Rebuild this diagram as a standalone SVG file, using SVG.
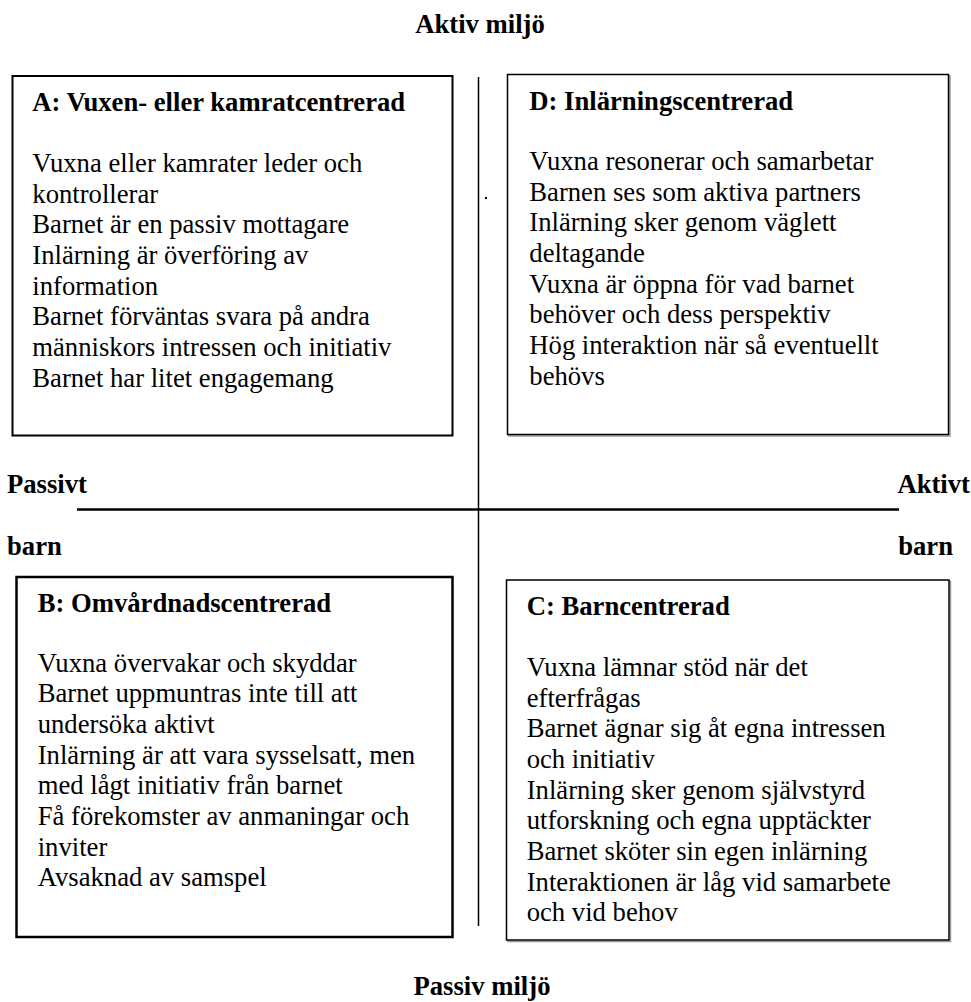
<svg xmlns="http://www.w3.org/2000/svg" width="971" height="1002" viewBox="0 0 971 1002">
<style>
text{font-family:"Liberation Serif","Times New Roman",serif;font-size:26.67px;fill:#000}
.b{font-weight:bold}
.box{fill:#fff;stroke:#000}
.shadow{fill:none;stroke:#999;stroke-width:1.5}
.ln{stroke:#000;fill:none}
</style>
<rect width="971" height="1002" fill="#fff"/>
<text class="b" x="480" y="33" text-anchor="middle">Aktiv miljö</text>
<text class="b" x="482" y="995" text-anchor="middle">Passiv miljö</text>
<text class="b" x="7" y="493">Passivt</text>
<text class="b" x="7" y="555">barn</text>
<text class="b" x="970" y="493" text-anchor="end">Aktivt</text>
<text class="b" x="953" y="555" text-anchor="end">barn</text>
<g id="connectors">
<line class="ln" x1="478.5" y1="77" x2="478.5" y2="926" stroke-width="1.5"/>
<line class="ln" x1="77" y1="509.5" x2="899" y2="509.5" stroke-width="2.5"/>
<circle cx="486" cy="198" r="1.2" fill="#000"/>
</g>
<g id="nodeA">
<rect class="box" x="12.5" y="76" width="440" height="359.5" stroke-width="2"/>
<text class="b" x="32.3" y="111">A: Vuxen- eller kamratcentrerad</text>
<text x="32.3" y="172">Vuxna eller kamrater leder och</text>
<text x="32.3" y="202.7">kontrollerar</text>
<text x="32.3" y="233.3">Barnet är en passiv mottagare</text>
<text x="32.3" y="264">Inlärning är överföring av</text>
<text x="32.3" y="294.7">information</text>
<text x="32.3" y="325.3">Barnet förväntas svara på andra</text>
<text x="32.3" y="356">människors intressen och initiativ</text>
<text x="32.3" y="386.7">Barnet har litet engagemang</text>
</g>
<g id="nodeD">
<rect class="shadow" x="509" y="76" width="441" height="360"/>
<rect class="box" x="507.5" y="74.5" width="441" height="360" stroke-width="1.5"/>
<text class="b" x="529.3" y="110">D: Inlärningscentrerad</text>
<text x="529.3" y="170">Vuxna resonerar och samarbetar</text>
<text x="529.3" y="200.7">Barnen ses som aktiva partners</text>
<text x="529.3" y="231.3">Inlärning sker genom väglett</text>
<text x="529.3" y="262">deltagande</text>
<text x="529.3" y="292.7">Vuxna är öppna för vad barnet</text>
<text x="529.3" y="323.3">behöver och dess perspektiv</text>
<text x="529.3" y="354">Hög interaktion när så eventuellt</text>
<text x="529.3" y="384.7">behövs</text>
</g>
<g id="nodeB">
<rect class="box" x="16.5" y="577" width="436" height="360" stroke-width="2.5"/>
<text class="b" x="37.7" y="611.7">B: Omvårdnadscentrerad</text>
<text x="37.7" y="671.7">Vuxna övervakar och skyddar</text>
<text x="37.7" y="702.4">Barnet uppmuntras inte till att</text>
<text x="37.7" y="733">undersöka aktivt</text>
<text x="37.7" y="763.7">Inlärning är att vara sysselsatt, men</text>
<text x="37.7" y="794.4">med lågt initiativ från barnet</text>
<text x="37.7" y="825">Få förekomster av anmaningar och</text>
<text x="37.7" y="855.7">inviter</text>
<text x="37.7" y="886.4">Avsaknad av samspel</text>
</g>
<g id="nodeC">
<rect class="shadow" x="508" y="581.5" width="442.5" height="360"/>
<rect class="box" x="506.5" y="580" width="442.5" height="360" stroke-width="1.5"/>
<text class="b" x="526.7" y="615">C: Barncentrerad</text>
<text x="526.7" y="676">Vuxna lämnar stöd när det</text>
<text x="526.7" y="706.7">efterfrågas</text>
<text x="526.7" y="737.3">Barnet ägnar sig åt egna intressen</text>
<text x="526.7" y="768">och initiativ</text>
<text x="526.7" y="798.7">Inlärning sker genom självstyrd</text>
<text x="526.7" y="829.3">utforskning och egna upptäckter</text>
<text x="526.7" y="860">Barnet sköter sin egen inlärning</text>
<text x="526.7" y="890.7">Interaktionen är låg vid samarbete</text>
<text x="526.7" y="921.3">och vid behov</text>
</g>
</svg>
